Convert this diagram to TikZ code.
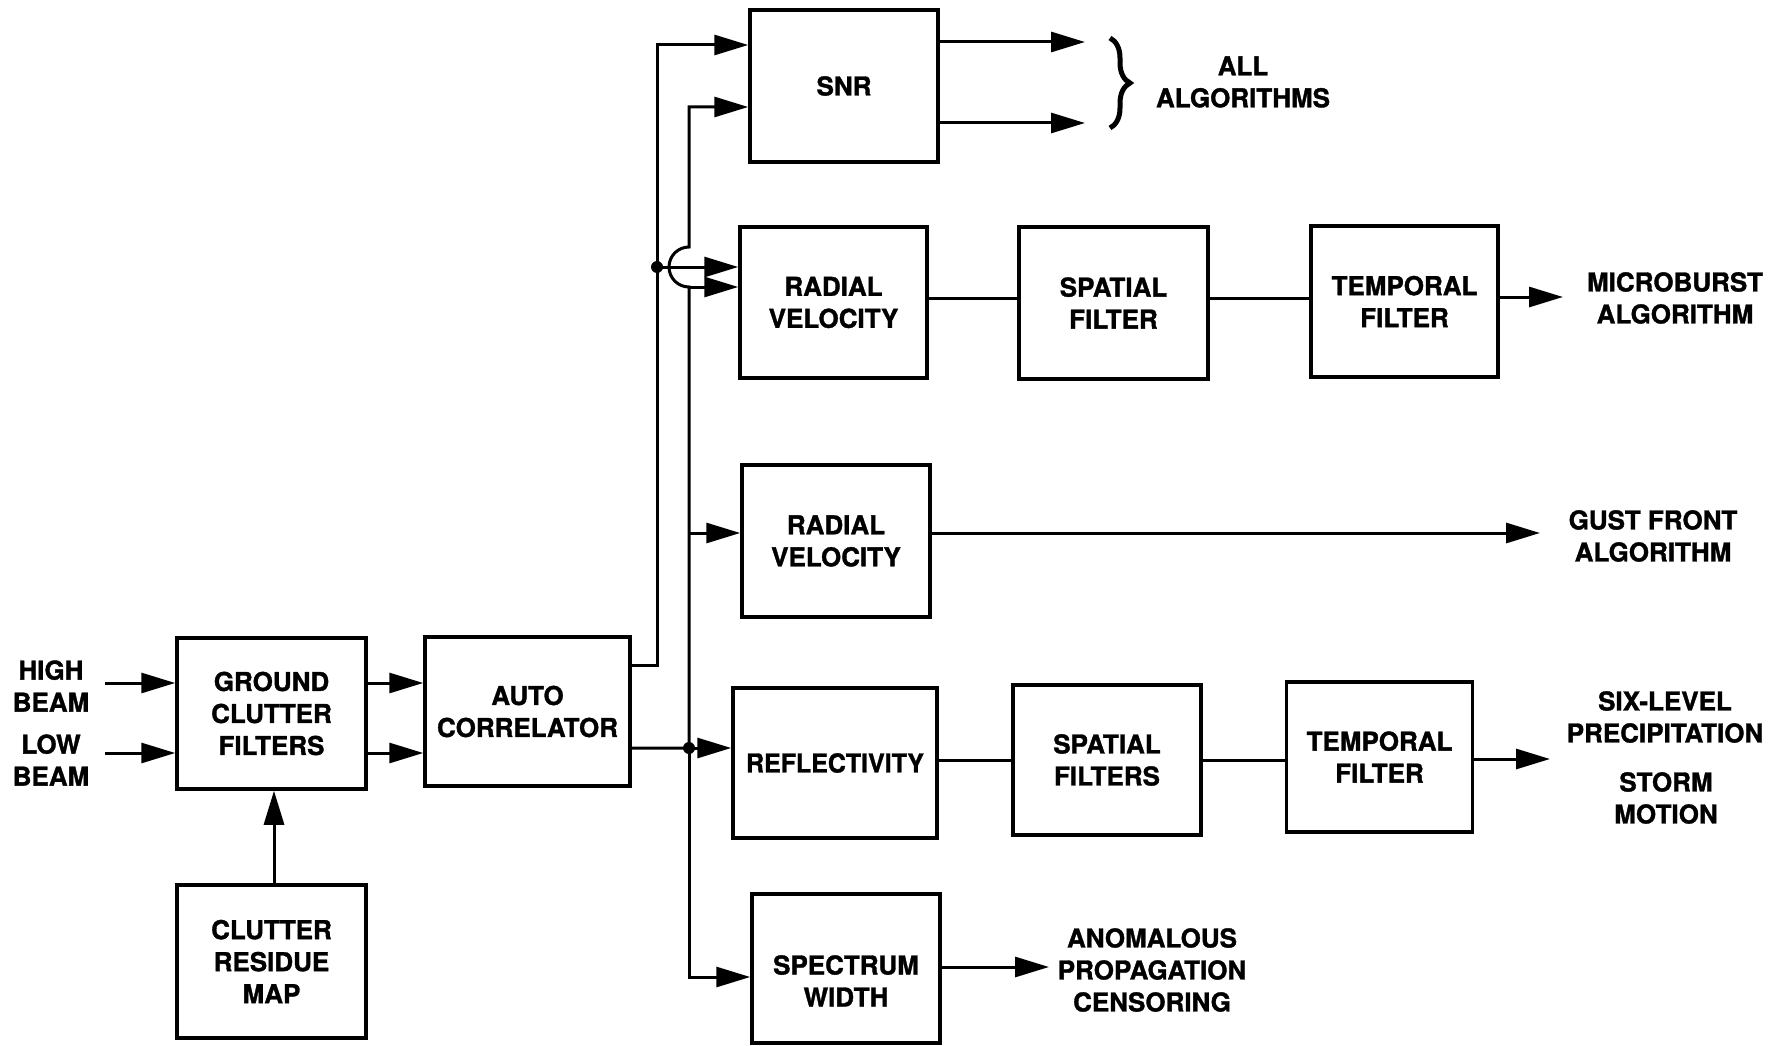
\documentclass[tikz,border=0pt]{standalone}
\usepackage{fontspec}
\setmainfont{TeX Gyre Heros}[BoldFeatures={FakeBold=1.3}]
\usepackage{graphicx}
\usetikzlibrary{arrows.meta,decorations.pathreplacing}
\begin{document}
\begin{tikzpicture}[x=1pt,y=-1pt,
  every node/.style={font=\fontsize{26}{32}\selectfont\bfseries, align=center},
  blk/.style={draw, line width=3.5pt, inner sep=0pt},
  conn/.style={line width=3pt},
  arr/.style={conn, -{Triangle[length=34pt,width=20pt]}},
  lbl/.style={inner sep=0pt},
  dot/.style={circle, fill, inner sep=0pt, minimum size=12pt}
]
\useasboundingbox (0,0) rectangle (1792,1046);
\fill[white] (0,0) rectangle (1792,1046);

% blocks
\node[blk, minimum width=189pt, minimum height=151pt] (gcf) at (271.5,713.5) {GROUND\\CLUTTER\\FILTERS};
\node[blk, minimum width=205pt, minimum height=149pt] (ac) at (527.5,711.5) {AUTO\\CORRELATOR};
\node[blk, minimum width=189pt, minimum height=153pt] (crm) at (271.5,961.5) {CLUTTER\\RESIDUE\\MAP};
\node[blk, minimum width=188pt, minimum height=152pt] (snr) at (844,86) {SNR};
\node[blk, minimum width=187pt, minimum height=151pt] (rv1) at (833.5,302.5) {RADIAL\\VELOCITY};
\node[blk, minimum width=189pt, minimum height=152pt] (sf1) at (1113.5,303) {SPATIAL\\FILTER};
\node[blk, minimum width=187pt, minimum height=151pt] (tf1) at (1404.5,301.5) {TEMPORAL\\FILTER};
\node[blk, minimum width=188pt, minimum height=152pt] (rv2) at (836,541) {RADIAL\\VELOCITY};
\node[blk, minimum width=204pt, minimum height=150pt] (ref) at (835,763) {\scalebox{0.96}[1]{REFLECTIVITY}};
\node[blk, minimum width=188pt, minimum height=150pt] (sf2) at (1107,760) {SPATIAL\\FILTERS};
\node[blk, minimum width=186pt, minimum height=150pt] (tf2) at (1379.5,757) {TEMPORAL\\FILTER};
\node[blk, minimum width=188pt, minimum height=149pt] (sw) at (846,968.5) {\rule{0pt}{44pt}SPECTRUM\\WIDTH};

% text labels
\node[lbl] (hb) at (51,686) {HIGH\\BEAM};
\node[lbl] (lb) at (51,760) {LOW\\BEAM};
\node[lbl] (all) at (1243,82) {ALL\\ALGORITHMS};
\node[lbl] (mb) at (1675,298) {MICROBURST\\ALGORITHM};
\node[lbl] (gf) at (1653,536) {GUST FRONT\\ALGORITHM};
\node[lbl] (six) at (1665,717) {SIX-LEVEL\\PRECIPITATION};
\node[lbl] (stm) at (1666,798) {STORM\\MOTION};
\node[lbl] (anp) at (1152,970) {ANOMALOUS\\PROPAGATION\\CENSORING};

% helper coordinates
\coordinate (hbs) at (105,683);
\coordinate (lbs) at (105,753);
\coordinate (b1bot) at (657,665);
\coordinate (b1top) at (657,45);
\coordinate (d1) at (657,267);
\coordinate (d2) at (689,748);
\coordinate (j1) at (689,287);
\coordinate (b2top) at (689,107);
\coordinate (b2mid) at (689,533);
\coordinate (b2bot) at (689,977);
\coordinate (s1) at (1085,42);
\coordinate (s2) at (1085,123);
\coordinate (r1) at (0,298);
\coordinate (o1) at (1563,297);
\coordinate (o2) at (1540,533);
\coordinate (r2) at (0,760);
\coordinate (o3) at (1550,759);
\coordinate (o4) at (1049,967);

% inputs
\draw[arr] (hbs) -- (hbs -| gcf.west);
\draw[arr] (lbs) -- (lbs -| gcf.west);
\draw[arr] (gcf.east |- hbs) -- (ac.west |- hbs);
\draw[arr] (gcf.east |- lbs) -- (ac.west |- lbs);
\draw[arr] (crm.north -| 274,0) -- (gcf.south -| 274,0);

% bus 1
\draw[arr] (ac.east |- b1bot) -- (b1bot) -- (b1top) -- (snr.west |- b1top);
\draw[arr] (d1) -- (rv1.west |- d1);
% bus 2 with hop
\draw[arr] (ac.east |- d2) -- (d2) -- (j1) arc[start angle=270, end angle=90, radius=20pt] -- (b2top) -- (snr.west |- b2top);
\draw[arr] (j1) -- (rv1.west |- j1);
\draw[arr] (b2mid) -- (rv2.west |- b2mid);
\draw[arr] (d2) -- (ref.west |- d2);
\draw[arr] (d2) -- (b2bot) -- (sw.west |- b2bot);
\node[dot] at (d1) {};
\node[dot] at (d2) {};

% SNR outputs
\draw[arr] (snr.east |- s1) -- (s1);
\draw[arr] (snr.east |- s2) -- (s2);
\draw[line width=5pt, decorate, decoration={brace, amplitude=20pt}] (1110,38) -- (1110,128);

% row 1
\draw[conn] (rv1.east |- r1) -- (sf1.west |- r1);
\draw[conn] (sf1.east |- r1) -- (tf1.west |- r1);
\draw[arr] (tf1.east |- o1) -- (o1);
% row 2
\draw[arr] (rv2.east |- o2) -- (o2);
% row 3
\draw[conn] (ref.east |- r2) -- (sf2.west |- r2);
\draw[conn] (sf2.east |- r2) -- (tf2.west |- r2);
\draw[arr] (tf2.east |- o3) -- (o3);
% row 4
\draw[arr] (sw.east |- o4) -- (o4);
\end{tikzpicture}
\end{document}
